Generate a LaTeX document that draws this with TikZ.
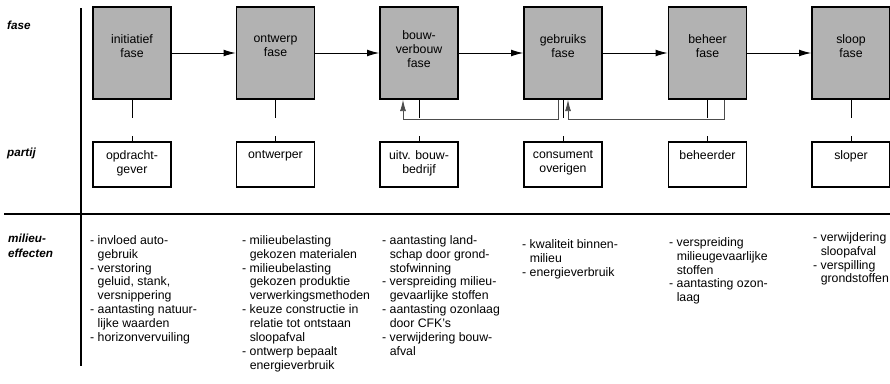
\documentclass[tikz,border=0pt]{standalone}
\usepackage{fontspec}
\setmainfont{Liberation Sans}
\usetikzlibrary{arrows.meta}
\newcommand{\effind}{\phantom{- }}

\begin{document}
\begin{tikzpicture}[
    x=0.03cm, y=-0.03cm,
    every node/.style={font=\fontsize{10.5}{11.9}\selectfont},
    fasebox/.style={draw, line width=1.3pt, fill=black!30, minimum width=2.34cm, minimum height=2.76cm, inner sep=0pt},
    partijbox/.style={draw, line width=1.1pt, minimum width=2.34cm, minimum height=1.35cm, inner sep=0pt},
    boxtekst/.style={align=center, inner sep=0pt},
    effect/.style={align=left, anchor=north west, inner sep=0pt},
    rij/.style={font=\fontsize{10}{12.4}\selectfont\bfseries\itshape, align=left, inner sep=0pt},
    pijl/.style={-{Latex[length=3.6mm, width=2mm]}, line width=0.8pt},
    terug/.style={-{Latex[length=3.4mm, width=1.8mm]}, line width=0.7pt, black!70}
]
\useasboundingbox (0,0) rectangle (890,383);

% row labels and separators
\node[rij, anchor=west] (lfase) at (7,25) {fase};
\node[rij, anchor=west] (lpartij) at (7,153) {partij};
\node[rij, anchor=north west] (lmilieu) at (8,234) {milieu-\\effecten};
\draw[line width=1.2pt] (81,8) -- (81,366);
\draw[line width=1.2pt] (4,214) -- (890,214);

% phases
\node[fasebox] (init) at (132,53) {};
\node[fasebox] (ontw) at (275.5,53) {};
\node[fasebox] (bouw) at (419,53) {};
\node[fasebox] (gebr) at (563,53) {};
\node[fasebox] (beh) at (707.5,53) {};
\node[fasebox] (sloop) at (851,53) {};
\node[boxtekst] (tinit) at ([yshift=0.21cm]init.center) {initiatief\\fase};
\node[boxtekst] (tontw) at ([yshift=0.21cm]ontw.center) {ontwerp\\fase};
\node[boxtekst] (tbouw) at ([yshift=0.12cm]bouw.center) {bouw-\\verbouw\\fase};
\node[boxtekst] (tgebr) at ([yshift=0.21cm]gebr.center) {gebruiks\\fase};
\node[boxtekst] (tbeh) at ([yshift=0.21cm]beh.center) {beheer\\fase};
\node[boxtekst] (tsloop) at ([yshift=0.21cm]sloop.center) {sloop\\fase};

\foreach \a/\b in {init/ontw, ontw/bouw, bouw/gebr, gebr/beh, beh/sloop}
    \draw[pijl] (\a) -- (\b);
\foreach \n in {init,ontw,bouw,gebr,beh,sloop}
    \draw[line width=0.6pt] (\n.south) -- ++(0,18);

% feedback
\draw[terug] ([xshift=-0.15cm]gebr.south) -- ++(0,20) -| ([xshift=-0.48cm]bouw.south);
\draw[terug] ([xshift=0.5cm]beh.south) -- ++(0,20) -| ([xshift=0.15cm]gebr.south);

% parties
\node[partijbox] (opdr) at (132,164.5) {};
\node[partijbox] (ontwp) at (275.5,164.5) {};
\node[partijbox] (uitv) at (419,164.5) {};
\node[partijbox] (cons) at (563,164.5) {};
\node[partijbox] (bhd) at (707.5,164.5) {};
\node[partijbox] (slp) at (851,164.5) {};
\node[boxtekst, anchor=north] (topdr) at ([yshift=-0.26cm]opdr.north) {opdracht-\\gever};
\node[boxtekst, anchor=north] (tontwp) at ([yshift=-0.26cm]ontwp.north) {ontwerper};
\node[boxtekst, anchor=north] (tuitv) at ([yshift=-0.26cm]uitv.north) {uitv. bouw-\\bedrijf};
\node[boxtekst, anchor=north] (tcons) at ([yshift=-0.26cm]cons.north) {consument\\overigen};
\node[boxtekst, anchor=north] (tbhd) at ([yshift=-0.26cm]bhd.north) {beheerder};
\node[boxtekst, anchor=north] (tslp) at ([yshift=-0.26cm]slp.north) {sloper};
\foreach \n in {opdr,ontwp,uitv,cons,bhd,slp}
    \draw[line width=0.6pt] (\n.north) -- ++(0,-5);

% environmental effects
\node[effect] (e1) at (90,235) {- invloed auto-\\\effind gebruik\\- verstoring\\\effind geluid, stank,\\\effind versnippering\\- aantasting natuur-\\\effind lijke waarden\\- horizonvervuiling};
\node[effect] (e2) at (242,235) {- milieubelasting\\\effind gekozen materialen\\- milieubelasting\\\effind gekozen produktie\\\effind verwerkingsmethoden\\- keuze constructie in\\\effind relatie tot ontstaan\\\effind sloopafval\\- ontwerp bepaalt\\\effind energieverbruik};
\node[effect] (e3) at (382,235) {- aantasting land-\\\effind schap door grond-\\\effind stofwinning\\- verspreiding milieu-\\\effind gevaarlijke stoffen\\- aantasting ozonlaag\\\effind door CFK's\\- verwijdering bouw-\\\effind afval};
\node[effect] (e4) at (522,239) {- kwaliteit binnen-\\\effind milieu\\- energieverbruik};
\node[effect] (e5) at (669,237) {- verspreiding\\\effind milieugevaarlijke\\\effind stoffen\\- aantasting ozon-\\\effind laag};
\node[effect] (e6) at (813,232) {- verwijdering\\\effind sloopafval\\- verspilling\\\effind grondstoffen};
\end{tikzpicture}
\end{document}
